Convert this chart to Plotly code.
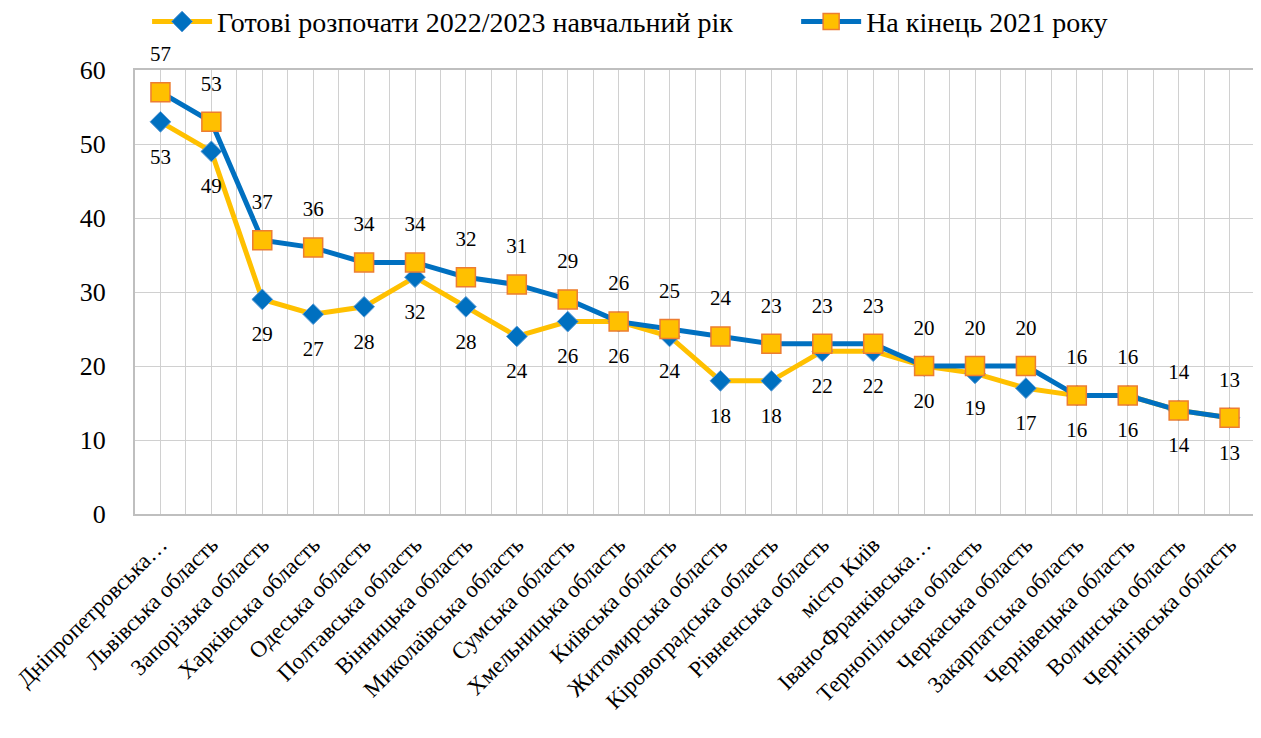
import plotly.graph_objects as go

regions = [
    "Дніпропетровська…", "Львівська область", "Запорізька область",
    "Харківська область", "Одеська область", "Полтавська область",
    "Вінницька область", "Миколаївська область", "Сумська область",
    "Хмельницька область", "Київська область", "Житомирська область",
    "Кіровоградська область", "Рівненська область", "місто Київ",
    "Івано-Франківська…", "Тернопільська область", "Черкаська область",
    "Закарпатська область", "Чернівецька область", "Волинська область",
    "Чернігівська область",
]
ready_2022 = [53, 49, 29, 27, 28, 32, 28, 24, 26, 26, 24, 18, 18, 22, 22,
              20, 19, 17, 16, 16, 14, 13]
end_2021 = [57, 53, 37, 36, 34, 34, 32, 31, 29, 26, 25, 24, 23, 23, 23,
            20, 20, 20, 16, 16, 14, 13]

x = list(range(len(regions)))
font = "serif"

fig = go.Figure()
fig.add_trace(go.Scatter(
    x=x, y=ready_2022, name="Готові розпочати 2022/2023 навчальний рік",
    mode="lines+markers", legend="legend",
    line=dict(color="#FFC000", width=5),
    marker=dict(symbol="diamond", size=16, color="#0070C0",
                line=dict(color="#5B9BD5", width=1)),
))
fig.add_trace(go.Scatter(
    x=x, y=end_2021, name="На кінець 2021 року",
    mode="lines+markers", legend="legend2",
    line=dict(color="#0070C0", width=5),
    marker=dict(symbol="square", size=19, color="#FFC000",
                line=dict(color="#ED7D31", width=1.5)),
))
# data labels (invisible wide markers push the text off the points)
fig.add_trace(go.Scatter(
    x=x, y=ready_2022, mode="markers+text", text=ready_2022,
    textposition="bottom center", showlegend=False, hoverinfo="skip",
    marker=dict(size=40, opacity=0), cliponaxis=False,
    textfont=dict(size=21, color="#000000", family=font),
))
fig.add_trace(go.Scatter(
    x=x, y=end_2021, mode="markers+text", text=end_2021,
    textposition="top center", showlegend=False, hoverinfo="skip",
    marker=dict(size=40, opacity=0), cliponaxis=False,
    textfont=dict(size=21, color="#000000", family=font),
))

legend_style = dict(orientation="h", y=0.981, yanchor="middle",
                    yref="container", xref="container", xanchor="left",
                    bgcolor="rgba(0,0,0,0)",
                    font=dict(size=28, family=font), itemwidth=60)
fig.update_layout(
    width=1253, height=730,
    margin=dict(l=127, r=6, t=62, b=224, autoexpand=False),
    paper_bgcolor="white", plot_bgcolor="white",
    font=dict(family=font, color="#000000"),
    legend=dict(legend_style, x=0.111),
    legend2=dict(legend_style, x=0.629),
    showlegend=True,
)
fig.update_xaxes(
    range=[-0.5, len(regions) - 0.5], tickmode="array", tickvals=x,
    ticktext=regions, tickangle=-45, tickfont=dict(size=23, family=font),
    ticklabeloverflow="allow",
    showgrid=True, gridcolor="#D0D0D0", gridwidth=1,
    minor=dict(tick0=-0.5, dtick=1, showgrid=True, gridcolor="#D0D0D0"),
    showline=True, linecolor="#BFBFBF", linewidth=2, mirror=True,
    ticks="", zeroline=False, ticklabelstandoff=6,
)
fig.update_yaxes(
    range=[0, 60], dtick=10, tickfont=dict(size=26, family=font),
    showgrid=True, gridcolor="#D0D0D0", gridwidth=1,
    showline=True, linecolor="#BFBFBF", linewidth=2, mirror=True,
    ticks="", zeroline=False, ticklabelstandoff=22,
)

fig.write_html("out.html")
